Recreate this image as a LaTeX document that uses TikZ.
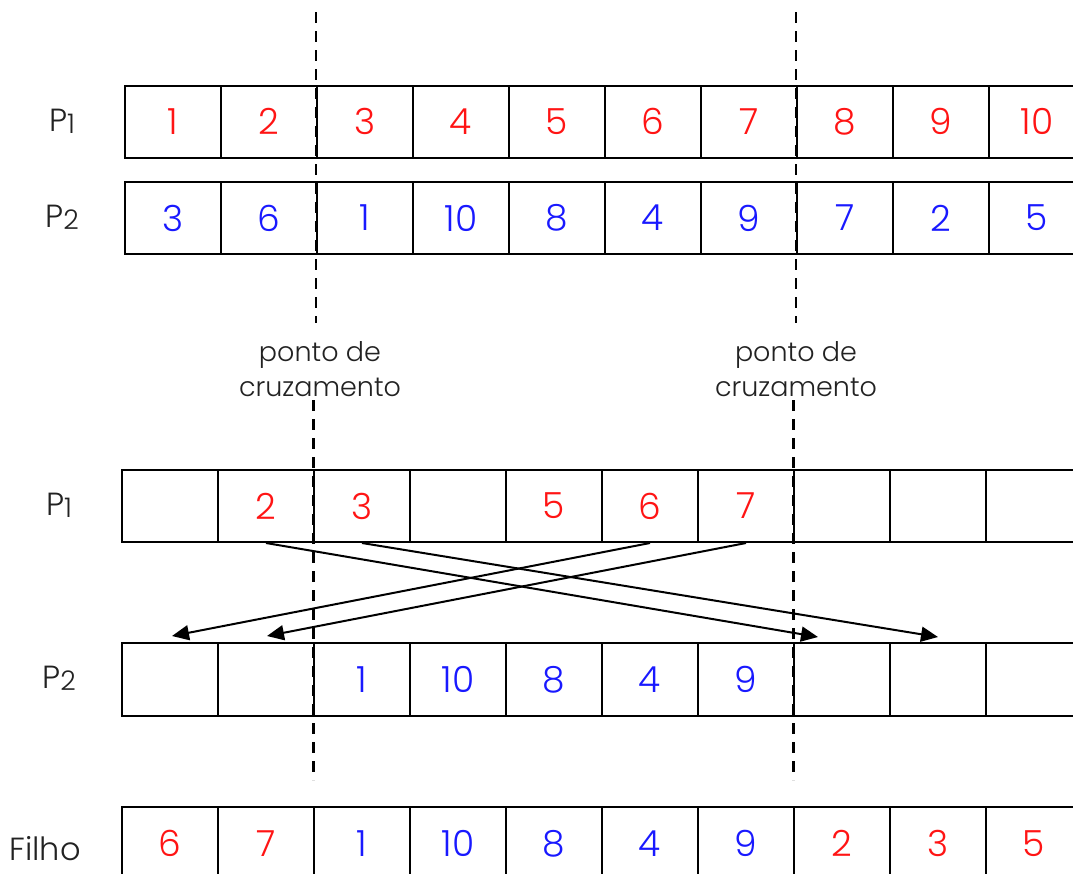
\documentclass[tikz,border=0pt]{standalone}
\usepackage{fontspec}
\IfFontExistsTF{Poppins Light}{\setmainfont{Poppins Light}}{\setmainfont{Poppins}}
\usetikzlibrary{arrows.meta}
\definecolor{cred}{RGB}{255,20,20}
\definecolor{cblue}{RGB}{25,25,255}
\definecolor{ctext}{RGB}{34,34,34}
\tikzset{
  cell/.style={draw=black, line width=2pt, minimum width=96pt, inner sep=0pt,
    font=\fontsize{36}{36}\selectfont, anchor=north west},
  rd/.style={text=cred}, bl/.style={text=cblue},
  lab/.style={text=ctext, font=\fontsize{32}{32}\selectfont, anchor=base, inner sep=0pt},
  note/.style={text=ctext, font=\fontsize{27}{35}\selectfont, align=center, inner sep=0pt, anchor=base},
  cutline/.style={draw=black, line width=2.6pt, dash pattern=on 11pt off 8pt},
  move/.style={draw=black, line width=2pt, -{Triangle[length=17pt,width=15pt]}}
}
\newcommand{\sbs}[1]{\raisebox{-2.5pt}{\fontsize{27}{27}\selectfont #1}}
\begin{document}
\begin{tikzpicture}[x=1pt,y=-1pt]
\useasboundingbox (0,0) rectangle (1073,873);
\clip (0,0) rectangle (1073,873);
% top rows
\foreach \v [count=\i] in {1,2,3,4,5,6,7,8,9,10}
  \node[cell,rd,minimum height=72.5pt] (ta\i) at ({124+96*(\i-1)},84.5) {\v};
\foreach \v [count=\i] in {3,6,1,10,8,4,9,7,2,5}
  \node[cell,bl,minimum height=72pt] (tb\i) at ({124+96*(\i-1)},181) {\v};
% bottom rows
\foreach \v [count=\i] in {{},2,3,{},5,6,7,{},{},{}}
  \node[cell,rd,minimum height=72pt] (ba\i) at ({121+96*(\i-1)},469) {\v};
\foreach \v [count=\i] in {{},{},1,10,8,4,9,{},{},{}}
  \node[cell,bl,minimum height=73pt] (bb\i) at ({121+96*(\i-1)},642) {\v};
\foreach \v/\c [count=\i] in {6/cred,7/cred,1/cblue,10/cblue,8/cblue,4/cblue,9/cblue,2/cred,3/cred,5/cred}
  \node[cell,text=\c,minimum height=73pt] (ch\i) at ({121+96*(\i-1)},806) {\v};
% labels
\node[lab] (l1) at (62,131) {P\sbs{1}};
\node[lab] (l2) at (62,227) {P\sbs{2}};
\node[lab] (l3) at (59,515) {P\sbs{1}};
\node[lab] (l4) at (59,688) {P\sbs{2}};
\node[lab] (l5) at (45,860) {Filho};
% crossover points
\coordinate (d1a) at (316,12);  \coordinate (d1b) at (316,323);
\coordinate (d2a) at (796,12);  \coordinate (d2b) at (796,323);
\coordinate (d3a) at (313.5,400); \coordinate (d3b) at (313.5,780);
\coordinate (d4a) at (793.5,400); \coordinate (d4b) at (793.5,780);
\draw[cutline] (d1a) -- (d1b);
\draw[cutline] (d2a) -- (d2b);
\draw[cutline] (d3a) -- (d3b);
\draw[cutline] (d4a) -- (d4b);
\node[note] (n1) at (320,396.5) {ponto de\\cruzamento};
\node[note] (n2) at (796,396.5) {ponto de\\cruzamento};
% moves
\draw[move] (ba2.south) -- ([xshift=-24pt,yshift=5pt]bb8.north);
\draw[move] (ba3.south) -- ([yshift=5pt]bb9.north);
\draw[move] (ba6.south) -- ([xshift=2pt,yshift=6pt]bb1.north);
\draw[move] (ba7.south) -- ([xshift=1pt,yshift=6pt]bb2.north);
\end{tikzpicture}
\end{document}
